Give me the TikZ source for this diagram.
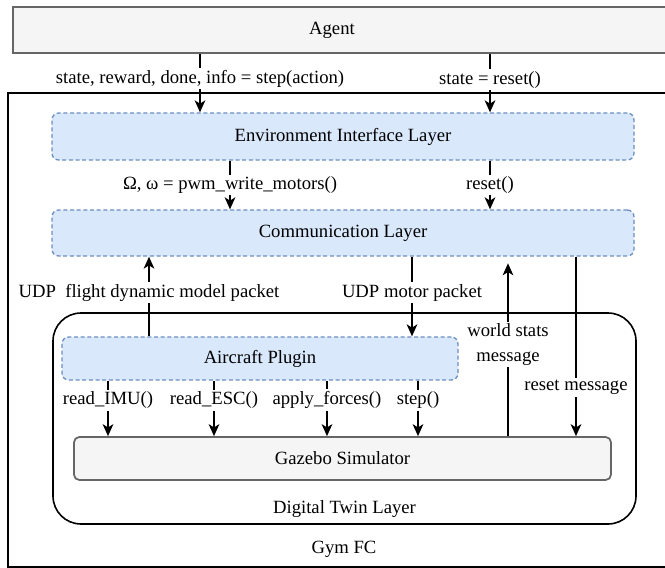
\documentclass[tikz,border=0pt]{standalone}
\usepackage{fontspec}
\setmainfont{Liberation Serif}
\usetikzlibrary{arrows.meta}

\definecolor{layerfill}{HTML}{DAE8FC}
\definecolor{layerdraw}{HTML}{6C8EBF}
\definecolor{greyfill}{HTML}{F5F5F5}
\definecolor{greydraw}{HTML}{666666}

\tikzset{
  txt/.style={font=\fontsize{14}{18.5}\selectfont},
  layer/.style={txt, draw=layerdraw, fill=layerfill, line width=1pt,
    dash pattern=on 3pt off 2pt, rounded corners=5pt},
  greybox/.style={txt, draw=greydraw, fill=greyfill, line width=1.3pt},
  frame/.style={txt, draw=black, line width=1.2pt},
  flow/.style={-{Stealth[length=9pt,width=8pt,inset=2.5pt]}, line width=1.2pt},
  lbl/.style={txt, fill=white, inner sep=1.5pt, align=center},
}

\begin{document}
\begin{tikzpicture}[%every node/.style={draw=red},
  x=0.75pt, y=-0.75pt]
  \useasboundingbox (0,0) rectangle (665,568);

  % columns of the connectors
  \coordinate (cStep) at (200,0);
  \coordinate (cReset) at (490,0);
  \coordinate (cPwm) at (230,0);
  \coordinate (cFdm) at (149,0);
  \coordinate (cMotor) at (412,0);
  \coordinate (cWorld) at (508,0);
  \coordinate (cRstMsg) at (576,0);
  \coordinate (cImu) at (108,0);
  \coordinate (cEsc) at (214,0);
  \coordinate (cForce) at (327,0);
  \coordinate (cSim) at (418,0);

  % boxes
  \node[frame, minimum width=504pt, minimum height=355.5pt,
    label={[txt, anchor=base, yshift=10.5pt]south:Gym FC}] (gym) at (344,330) {};
  \node[greybox, minimum width=500.25pt, minimum height=34.5pt,
    label={[txt, xshift=-10.9pt]center:Agent}] (agent) at (346.5,30) {};
  \node[layer, minimum width=436.5pt, minimum height=35.25pt] (env) at (343,136.5)
    {Environment Interface Layer};
  \node[layer, minimum width=436.5pt, minimum height=34.5pt] (comm) at (343,233)
    {Communication Layer};
  \node[frame, rounded corners=21pt, minimum width=437.25pt, minimum height=158.25pt,
    label={[txt, anchor=base, yshift=8.25pt]south:Digital Twin Layer}] (twin) at (344.5,418.5) {};
  \node[layer, minimum width=297pt, minimum height=32.25pt] (plugin) at (260,358.5)
    {Aircraft Plugin};
  \node[greybox, rounded corners=4pt, minimum width=402.75pt, minimum height=32.25pt] (gazebo)
    at (342.5,458.5) {Gazebo Simulator};

  % agent <-> gym
  \draw[flow] (agent.south -| cStep) -- node[lbl, pos=0.42]
    {state, reward, done, info = step(action)} (env.north -| cStep);
  \draw[flow] (agent.south -| cReset) -- node[lbl, pos=0.44]
    {state = reset()} (env.north -| cReset);

  % env -> comm
  \draw[flow] (env.south -| cPwm) -- node[lbl, pos=0.5]
    {Ω, ω = pwm\_write\_motors()} (comm.north -| cPwm);
  \draw[flow] (env.south -| cReset) -- node[lbl, pos=0.5]
    {reset()} (comm.north -| cReset);

  % comm <-> digital twin
  \draw[flow] (plugin.north -| cFdm) -- node[lbl, pos=0.55]
    {UDP\ \ flight dynamic model packet} (comm.south -| cFdm);
  \draw[flow] (comm.south -| cMotor) -- node[lbl, pos=0.45]
    {UDP motor packet} (plugin.north -| cMotor);
  \draw[flow, shorten >=5pt] (gazebo.north -| cWorld) -- node[lbl, pos=0.51]
    {world stats\\message} (comm.south -| cWorld);
  \draw[flow] (comm.south -| cRstMsg) -- node[lbl, pos=0.73]
    {reset message} (gazebo.north -| cRstMsg);

  % plugin -> gazebo
  \draw[flow] (plugin.south -| cImu) -- node[lbl, pos=0.35] {read\_IMU()} (gazebo.north -| cImu);
  \draw[flow] (plugin.south -| cEsc) -- node[lbl, pos=0.35] {read\_ESC()} (gazebo.north -| cEsc);
  \draw[flow] (plugin.south -| cForce) -- node[lbl, pos=0.35] {apply\_forces()} (gazebo.north -| cForce);
  \draw[flow] (plugin.south -| cSim) -- node[lbl, pos=0.35] {step()} (gazebo.north -| cSim);
\end{tikzpicture}
\end{document}
